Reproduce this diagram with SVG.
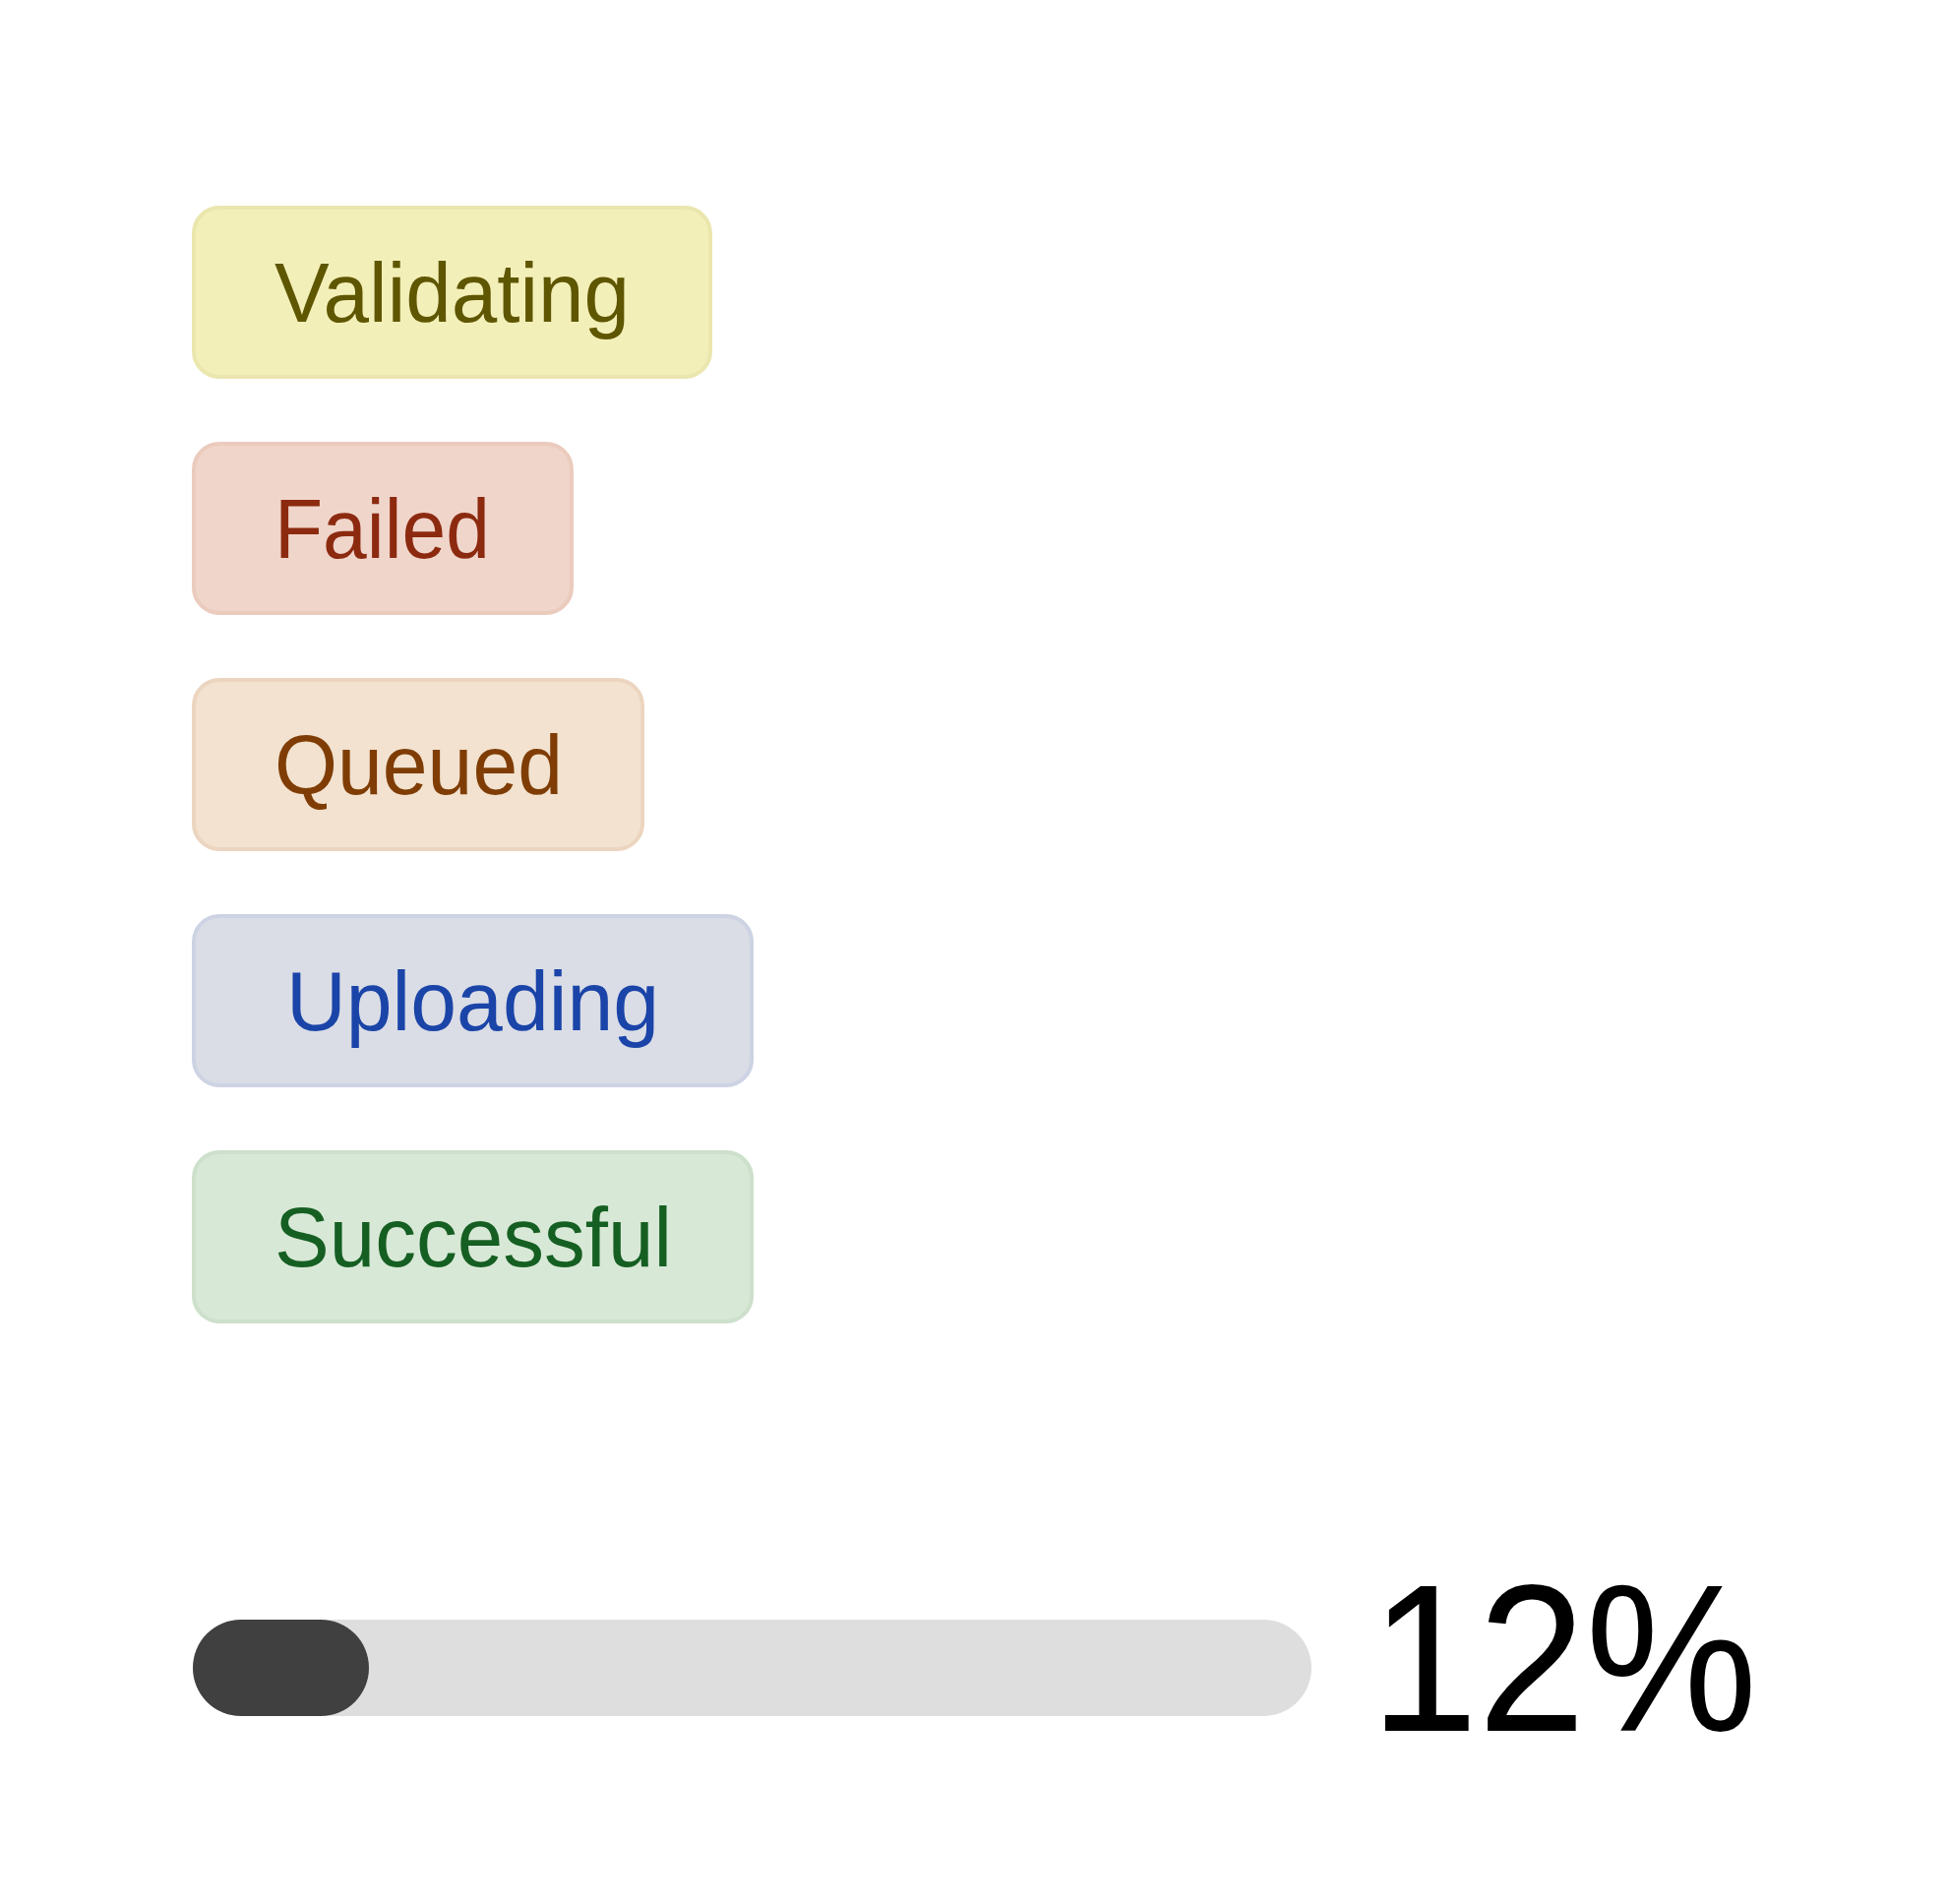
<svg xmlns="http://www.w3.org/2000/svg" width="1980" height="1935" viewBox="0 0 1980 1935">
<style>
.b{stroke-width:4}
.t{font-family:"Liberation Sans",Arial,sans-serif;font-size:86px}
</style>
<rect width="1980" height="1935" fill="#fff"/>
<g id="validating"><rect class="b" x="197" y="211" width="525" height="172" rx="26" fill="#f3efb8" stroke="#ebe6ae"/><text class="t" x="279" y="327" fill="#5e5600" textLength="361" lengthAdjust="spacingAndGlyphs">Validating</text></g>
<g id="failed"><rect class="b" x="197" y="451" width="384" height="172" rx="26" fill="#f0d5ca" stroke="#ebcbbd"/><text class="t" x="279" y="567" fill="#8c2a10" textLength="219" lengthAdjust="spacingAndGlyphs">Failed</text></g>
<g id="queued"><rect class="b" x="197" y="691" width="456" height="172" rx="26" fill="#f2e2cf" stroke="#ecd5c0"/><text class="t" x="279" y="807" fill="#7f3d05" textLength="293" lengthAdjust="spacingAndGlyphs">Queued</text></g>
<g id="uploading"><rect class="b" x="197" y="931" width="567" height="172" rx="26" fill="#dadde6" stroke="#cdd3e3"/><text class="t" x="291" y="1047" fill="#1a44a8" textLength="379" lengthAdjust="spacingAndGlyphs">Uploading</text></g>
<g id="successful"><rect class="b" x="197" y="1171" width="567" height="172" rx="26" fill="#d8e8d6" stroke="#cde0cb"/><text class="t" x="279" y="1287" fill="#155f22" textLength="404" lengthAdjust="spacingAndGlyphs">Successful</text></g>
<g id="progress"><rect x="196" y="1646" width="1137" height="98" rx="49" fill="#dedede"/><rect x="196" y="1646" width="179" height="98" rx="49" fill="#404040"/><text x="1393" y="1771" font-family="Liberation Sans, Arial, sans-serif" font-size="214" fill="#000" textLength="393" lengthAdjust="spacingAndGlyphs" transform="translate(0,-12)">12%</text></g>
</svg>
